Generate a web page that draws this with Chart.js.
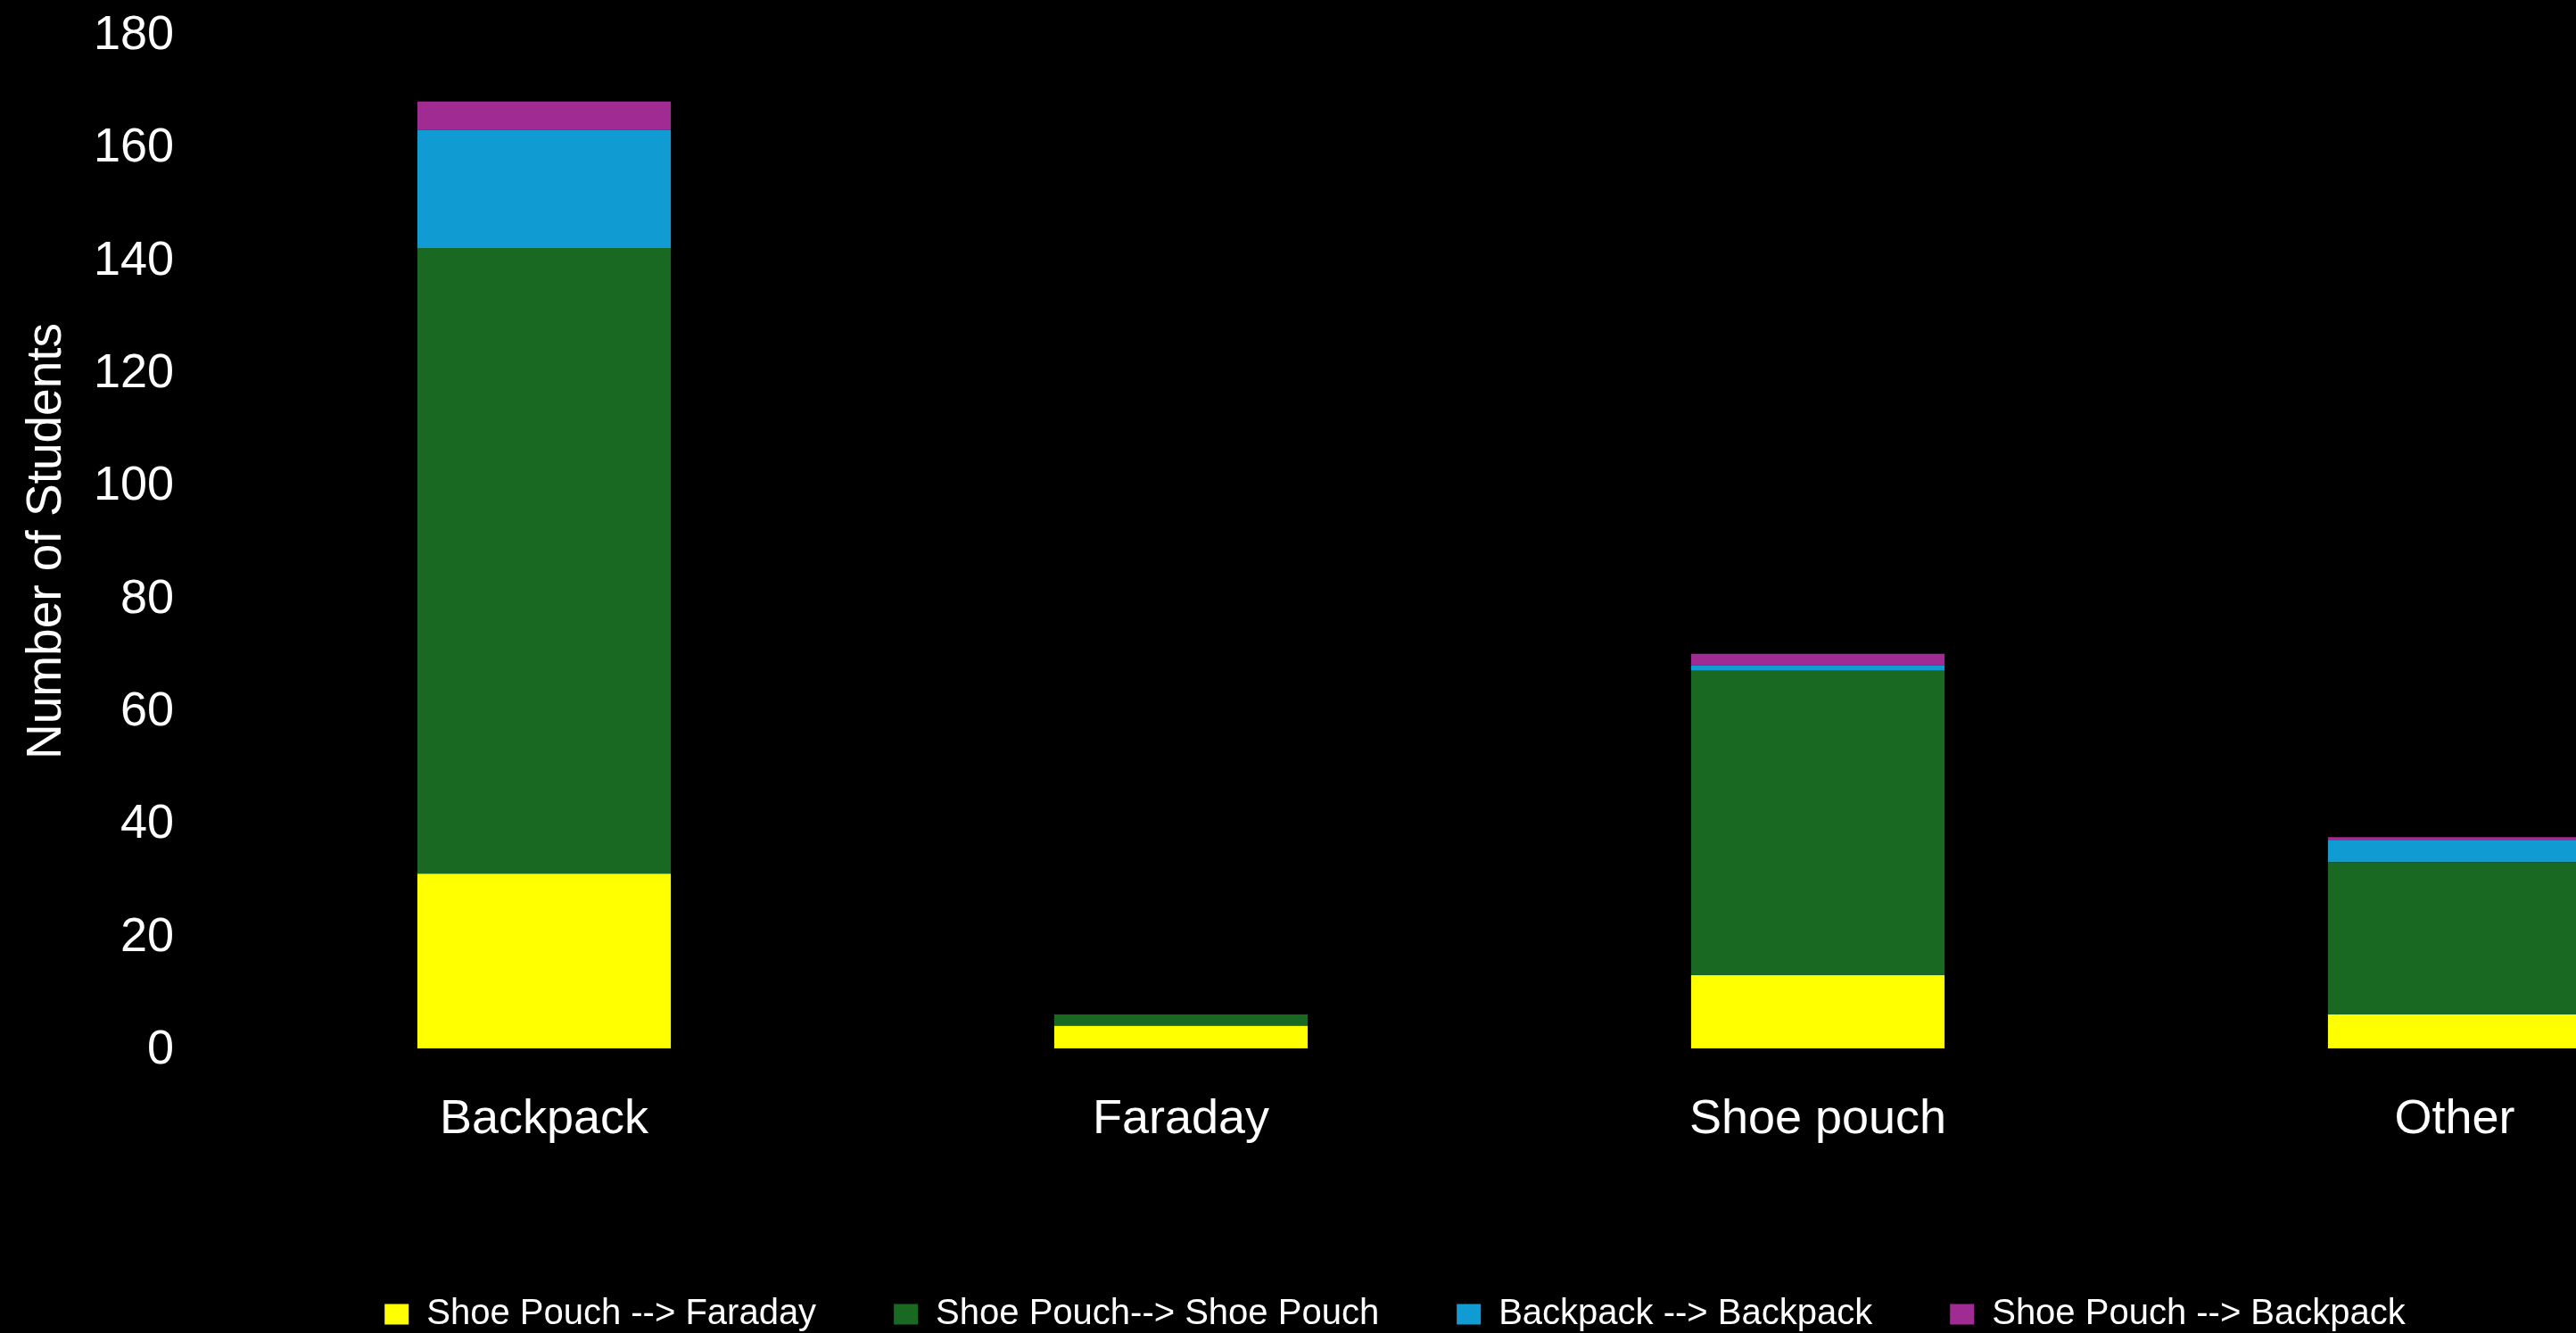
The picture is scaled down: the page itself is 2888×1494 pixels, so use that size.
<!DOCTYPE html>
<html>
<head>
<meta charset="utf-8">
<title>Number of Students</title>
<script src="https://cdn.jsdelivr.net/npm/chart.js@4.4.1/dist/chart.umd.min.js"></script>
<style>
  html, body { margin: 0; padding: 0; background: #000; overflow: hidden; }
  canvas { display: block; }
</style>
</head>
<body>
<canvas id="chart" width="3109" height="1494"></canvas>
<script>
// where the phone was kept, split by before --> after
const categories = ["Backpack", "Faraday", "Shoe pouch", "Other"];

const pouchToFaraday  = [31, 4, 13, 6];
const pouchToPouch    = [111, 2, 54, 27];
const backToBack      = [21, 0, 1, 4];
const pouchToBackpack = [5, 0, 2, 0.5];

const yTicks = [0, 20, 40, 60, 80, 100, 120, 140, 160, 180];

const white = "#ffffff";
Chart.defaults.font.family = '"Liberation Sans", Arial, sans-serif';
Chart.defaults.color = white;

const ctx = document.getElementById("chart");

new Chart(ctx, {
  type: "bar",
  data: {
    labels: categories,
    datasets: [
      { label: "Shoe Pouch --> Faraday", data: pouchToFaraday, backgroundColor: "#ffff00" },
      { label: "Shoe Pouch--> Shoe Pouch", data: pouchToPouch, backgroundColor: "#1a6922" },
      { label: "Backpack --> Backpack", data: backToBack, backgroundColor: "#109bd2" },
      { label: "Shoe Pouch --> Backpack", data: pouchToBackpack, backgroundColor: "#a02b93" }
    ]
  },
  options: {
    responsive: false,
    animation: false,
    barPercentage: 0.398,
    categoryPercentage: 1,
    // legend sits a little past the bottom edge
    layout: { padding: { top: 0, right: 0, bottom: -9, left: 19 } },
    plugins: {
      legend: {
        position: "bottom",
        labels: {
          color: white,
          font: { size: 40 },
          boxWidth: 27,
          boxHeight: 23,
          padding: 87
        }
      },
      tooltip: { enabled: false }
    },
    scales: {
      x: {
        stacked: true,
        grid: { display: false, drawTicks: false },
        border: { display: false },
        ticks: { color: white, font: { size: 54 }, padding: 48 },
        afterFit: s => { s.height = 191; }
      },
      y: {
        stacked: true,
        min: 0,
        max: 180,
        afterBuildTicks: s => { s.ticks = yTicks.map(v => ({ value: v })); },
        grid: { display: false, drawTicks: false },
        border: { display: false },
        ticks: { color: white, font: { size: 54 }, padding: 58, labelOffset: 2 },
        title: {
          display: true,
          text: "Number of Students",
          color: white,
          font: { size: 55 },
          padding: { top: 1, bottom: 0 }
        },
        afterFit: s => {
          s.width = 234;
          s.paddingTop = 38;
        }
      }
    }
  }
});
</script>
</body>
</html>
